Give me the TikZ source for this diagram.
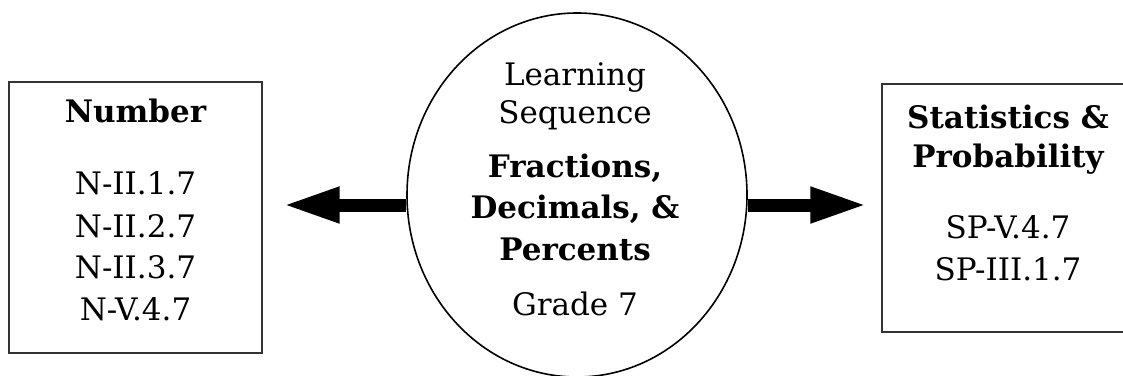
\documentclass[tikz,border=0pt]{standalone}
\usepackage{fontspec}
\setmainfont{DejaVu Serif}
\usetikzlibrary{arrows.meta,shapes.geometric}
\tikzset{
  frame/.style={draw=black!80, line width=1.4pt, rectangle, inner sep=0pt},
  ovalshape/.style={draw=black, line width=1.6pt, ellipse, inner sep=0pt},
  txt/.style={anchor=base, inner sep=0pt, font=\fontsize{31}{34}\selectfont},
  btxt/.style={txt, font=\fontsize{31}{34}\selectfont\bfseries},
  fat/.style={line width=13pt, -{Triangle[length=57pt,width=33pt]}},
}
\begin{document}
\begin{tikzpicture}[x=1pt,y=-1pt]
\useasboundingbox (0,0) rectangle (1123,375);
\clip (0,0) rectangle (1123,375);
% boxes
\node[frame, minimum width=253pt, minimum height=271pt] (numbox) at (135.5,217.5) {};
\node[frame, minimum width=254pt, minimum height=248pt] (spbox) at (1009,208) {};
\node[ovalshape, minimum width=340pt, minimum height=364pt] (ell) at (577,195) {};
% left box text
\node[btxt] (numtitle) at (135.5,122) {Number};
\node[txt] (n1) at (135.5,194) {N-II.1.7};
\node[txt] (n2) at (135.5,237) {N-II.2.7};
\node[txt] (n3) at (135.5,278) {N-II.3.7};
\node[txt] (n4) at (135.5,320) {N-V.4.7};
% ellipse text
\node[txt] (l1) at (575,85) {Learning};
\node[txt] (l2) at (575,123) {Sequence};
\node[btxt] (l3) at (575,177) {Fractions,};
\node[btxt] (l4) at (575,218) {Decimals, \&};
\node[btxt] (l5) at (575,260) {Percents};
\node[txt] (l6) at (575,315) {Grade 7};
% right box text
\node[btxt] (s1) at (1008,128) {Statistics \&};
\node[btxt] (s2) at (1008,167) {Probability};
\node[txt] (s3) at (1008,238) {SP-V.4.7};
\node[txt] (s4) at (1008,280) {SP-III.1.7};
% arrows
\coordinate (la) at ([yshift=-10pt]ell.west);
\coordinate (ra) at ([yshift=-10pt]ell.east);
\coordinate (lt) at ([xshift=20pt]numbox.east);
\coordinate (rt) at ([xshift=-14pt]spbox.west);
\draw[fat] (la) -- (la -| lt);
\draw[fat] (ra) -- (ra -| rt);
\end{tikzpicture}
\end{document}
